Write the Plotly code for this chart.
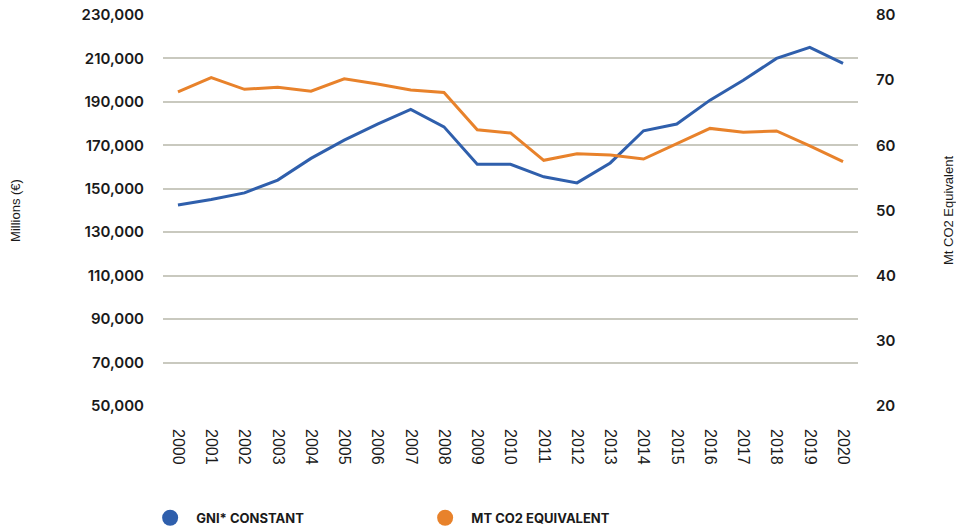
import plotly.graph_objects as go

years = [str(y) for y in range(2000, 2021)]
gni_constant = [142500, 145100, 148100, 154000, 164000, 172400, 179800, 186500, 178500, 161300,
                161300, 155500, 152700, 161900, 176700, 179800, 190800, 200000, 210000, 215100, 207700]
mt_co2 = [68.2, 70.4, 68.6, 68.9, 68.3, 70.2, 69.4, 68.5, 68.1, 62.4,
          61.9, 57.7, 58.7, 58.5, 57.9, 60.3, 62.6, 62.0, 62.2, 59.9, 57.5]

left_ticks = list(range(50000, 230001, 20000))
right_ticks = list(range(20, 81, 10))

BLUE = "#2F5FAC"
ORANGE = "#E8822B"
GRID = "#C9C9BF"

fig = go.Figure()
fig.add_trace(go.Scatter(x=years, y=gni_constant, mode="lines", line=dict(color=BLUE, width=3),
                         showlegend=False, yaxis="y"))
fig.add_trace(go.Scatter(x=years, y=mt_co2, mode="lines", line=dict(color=ORANGE, width=3),
                         showlegend=False, yaxis="y2"))
# legend entries
fig.add_trace(go.Scatter(x=[None], y=[None], mode="markers", name="\u00a0\u00a0GNI* CONSTANT",
                         marker=dict(color=BLUE, size=18, symbol="circle")))
fig.add_trace(go.Scatter(x=[None], y=[None], mode="markers", name="\u00a0\u00a0MT CO2 EQUIVALENT",
                         marker=dict(color=ORANGE, size=18, symbol="circle"), yaxis="y2"))

tick_font = dict(family="Inter", size=15, color="#1a1a1a", weight=600)
title_font = dict(family="Liberation Sans", size=13, color="#1a1a1a")

fig.update_layout(
    width=964, height=529,
    margin=dict(l=155, r=114, t=7, b=131, autoexpand=False),
    paper_bgcolor="white", plot_bgcolor="white",
    xaxis=dict(type="category", range=[-0.45, 20.45], showgrid=False, zeroline=False,
               showline=False, tickangle=90, ticklabelstandoff=22, automargin=False,
               tickfont=dict(family="Liberation Sans", size=16, color="#1a1a1a")),
    yaxis=dict(range=[50000, 230000], tickvals=left_ticks, tickformat=",",
               showgrid=True, gridcolor=GRID, gridwidth=1.5, zeroline=False, showline=False,
               tickfont=tick_font, ticklabelstandoff=18, automargin=False,
               ticklabeloverflow="allow",
               title=dict(text="Millions (€)", font=title_font, standoff=60)),
    yaxis2=dict(range=[20, 80], tickvals=right_ticks, overlaying="y", side="right",
                showgrid=False, zeroline=False, showline=False, automargin=False,
                tickfont=tick_font, ticklabelstandoff=17, ticklabeloverflow="allow",
                title=dict(text="Mt CO2 Equivalent", font=title_font, standoff=48)),
    legend=dict(orientation="h", x=-0.0185, xanchor="left", y=-0.286, yanchor="middle",
                font=dict(family="Inter", size=13, color="#1a1a1a", weight=700),
                entrywidth=230, entrywidthmode="pixels", itemsizing="trace"),
)

fig.write_html("out.html")
